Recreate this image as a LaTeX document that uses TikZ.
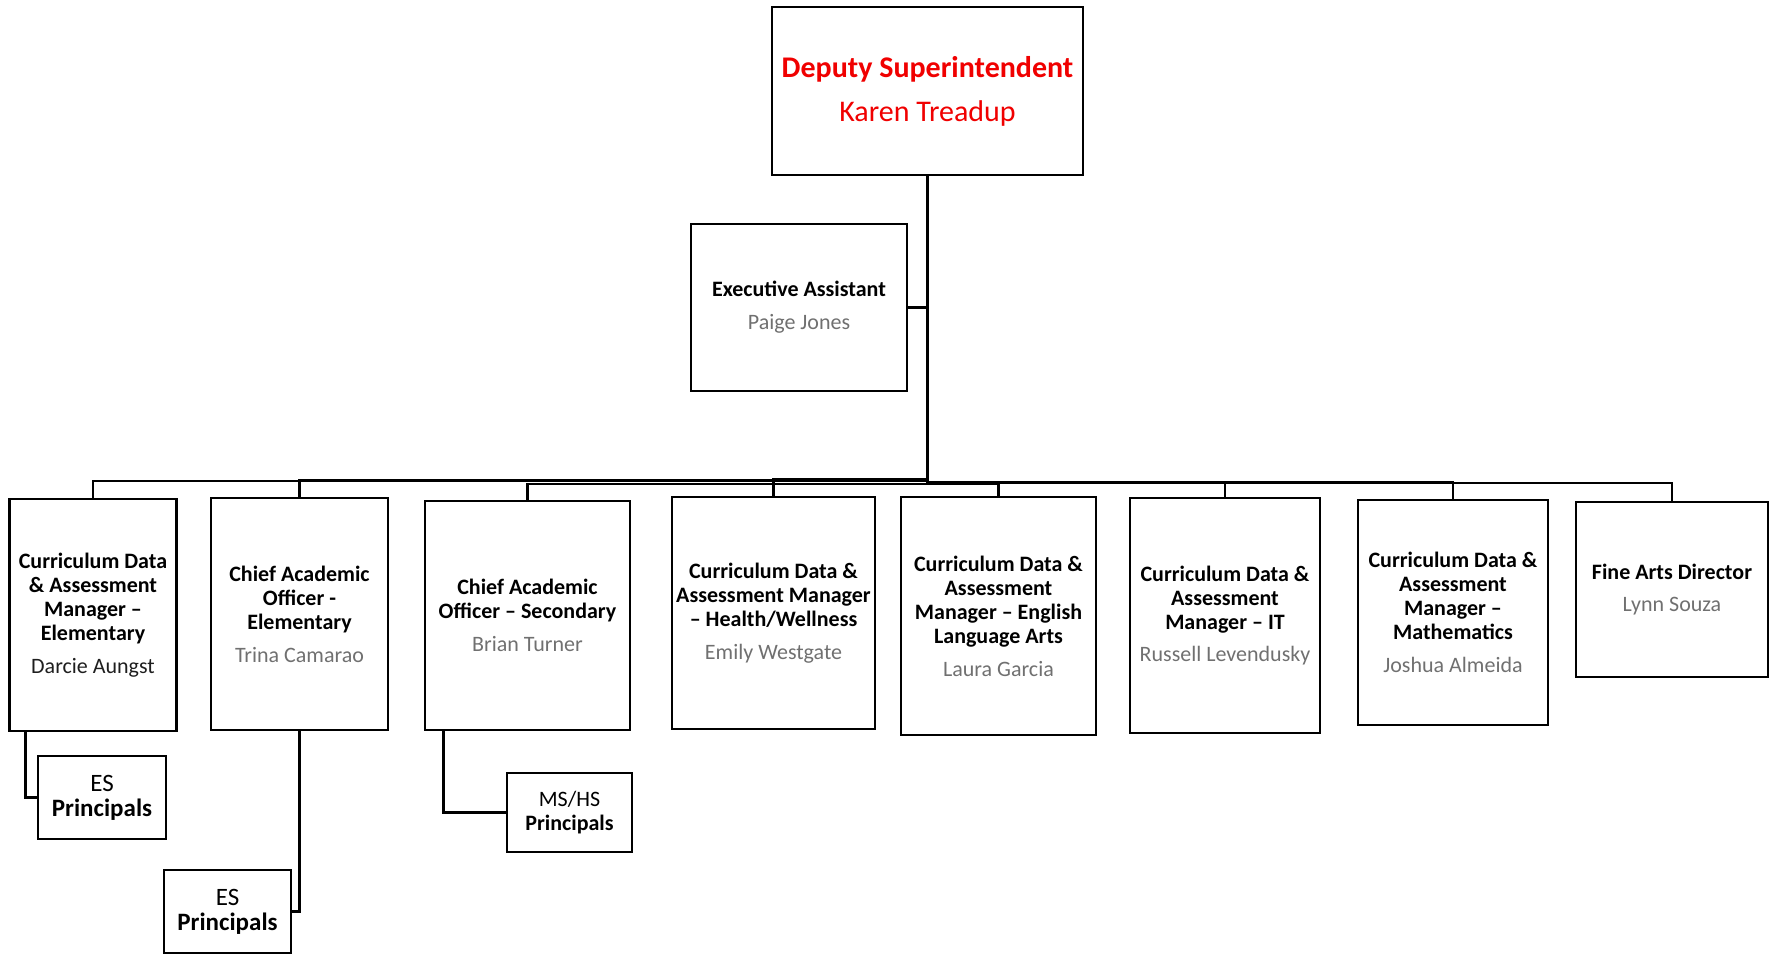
\documentclass[tikz,border=0pt]{standalone}
\usepackage{fontspec}
\setmainfont{Carlito}
\usepackage{xcolor}
\definecolor{namegray}{RGB}{112,112,112}
\definecolor{namedark}{RGB}{30,30,30}
\definecolor{depred}{RGB}{240,0,0}

\begin{document}
\begin{tikzpicture}[x=0.5pt,y=-0.5pt,
    box/.style={draw=black,line width=1.4pt,align=center,inner sep=1pt,
        font=\fontsize{11}{12}\selectfont\bfseries},
    prin/.style={box,font=\fontsize{12.5}{12.5}\selectfont\bfseries},
    link/.style={draw=black,line width=1.4pt}]
    \useasboundingbox (0,0) rectangle (1771,954);

    \node[box,minimum width=155.5pt,minimum height=84pt,text=depred,
        font=\fontsize{15}{15}\selectfont\bfseries] (dep) at (927.5,91)
        {Deputy Superintendent\\[7pt] {\mdseries Karen Treadup}};
    \node[box,minimum width=108pt,minimum height=83.5pt] (exec) at (799,307.5)
        {Executive Assistant\\[4.4pt] {\mdseries\color{namegray} Paige Jones}};

    \node[box,minimum width=83.5pt,minimum height=116pt] (cda1) at (93,615)
        {Curriculum Data\\ \& Assessment\\ Manager –\\ Elementary\\[4.4pt]
        {\mdseries\color{namedark} Darcie Aungst}};
    \node[box,minimum width=88.5pt,minimum height=116pt] (cao1) at (299.5,614)
        {Chief Academic\\ Officer -\\ Elementary\\[4.4pt]
        {\mdseries\color{namegray} Trina Camarao}};
    \node[box,minimum width=102.5pt,minimum height=114.5pt] (cao2) at (527.5,615.5)
        {Chief Academic\\ Officer – Secondary\\[4.4pt]
        {\mdseries\color{namegray} Brian Turner}};
    \node[box,minimum width=101.5pt,minimum height=116pt] (cda2) at (773.5,613)
        {Curriculum Data \&\\ Assessment Manager\\ – Health/Wellness\\[4.4pt]
        {\mdseries\color{namegray} Emily Westgate}};
    \node[box,minimum width=97.5pt,minimum height=119pt] (cda3) at (998.5,616)
        {Curriculum Data \&\\ Assessment\\ Manager – English\\ Language Arts\\[4.4pt]
        {\mdseries\color{namegray} Laura Garcia}};
    \node[box,minimum width=95pt,minimum height=117.5pt] (cda4) at (1225,615.5)
        {Curriculum Data \&\\ Assessment\\ Manager – IT\\[4.4pt]
        {\mdseries\color{namegray} Russell Levendusky}};
    \node[box,minimum width=95pt,minimum height=112.5pt] (cda5) at (1453,612.5)
        {Curriculum Data \&\\ Assessment\\ Manager –\\ Mathematics\\[4.4pt]
        {\mdseries\color{namegray} Joshua Almeida}};
    \node[box,minimum width=96pt,minimum height=87.5pt] (fine) at (1672,589.5)
        {Fine Arts Director\\[4.4pt] {\mdseries\color{namegray} Lynn Souza}};

    \node[prin,minimum width=64pt,minimum height=41.5pt] (es1) at (102,797.5)
        {{\mdseries ES}\\ Principals};
    \node[prin,minimum width=63.5pt,minimum height=41.5pt] (es2) at (227.5,911.5)
        {{\mdseries ES}\\ Principals};
    \node[box,minimum width=62.5pt,minimum height=39.5pt] (mshs) at (569.5,812.5)
        {{\mdseries MS/HS}\\ Principals};

    % connectors (each elbow has its own height, as in the chart)
    \draw[link] (exec.east) -- (exec.east -| dep.south);
    \foreach \n/\y in {cda1/481,cao1/480,cao2/484,cda2/479,
                       cda3/484,cda4/482,cda5/482,fine/483}
        \draw[link] (dep.south) -- (dep.south |- 0,\y) -| (\n.north);
    \draw[link] ([xshift=8.75pt]cda1.south west) |- (es1.west);
    \draw[link] (cao1.south) |- (es2.east);
    \draw[link] ([xshift=10pt]cao2.south west) |- (mshs.west);

\end{tikzpicture}
\end{document}
